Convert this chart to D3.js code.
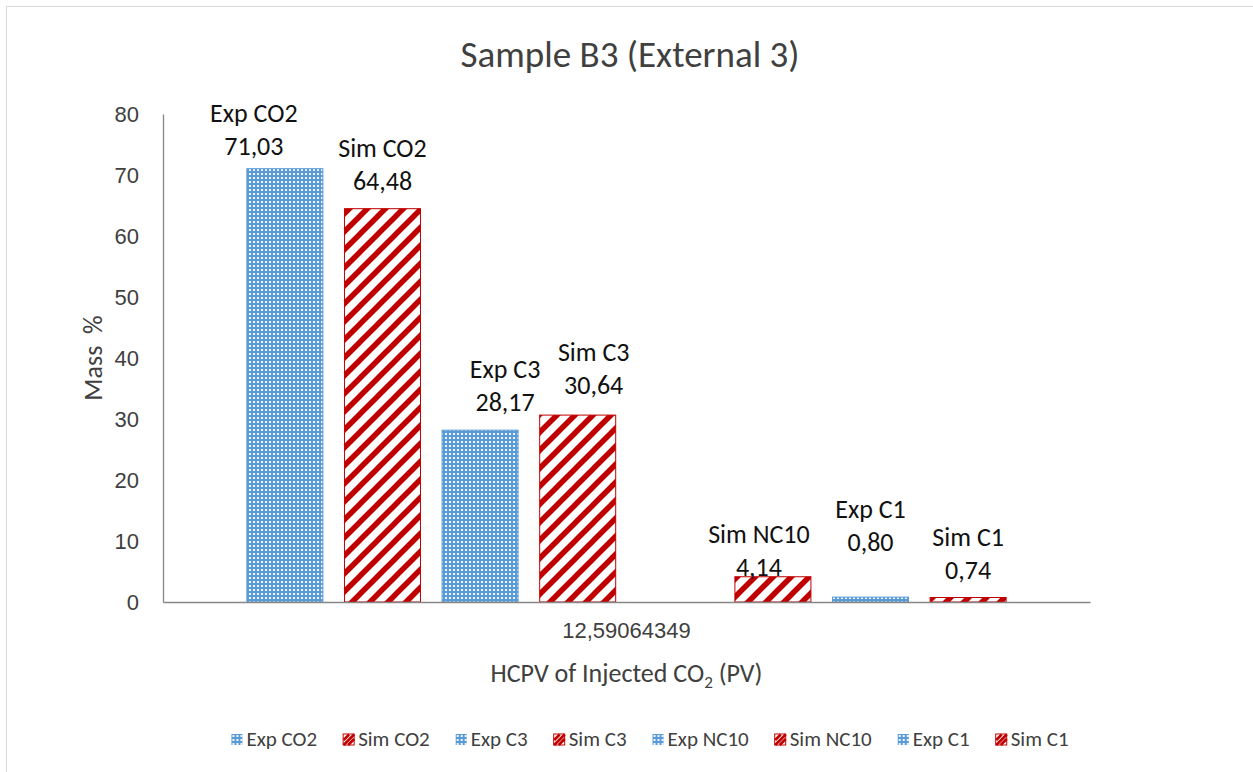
<!DOCTYPE html>
<html>
<head>
<meta charset="utf-8">
<script src="https://cdn.jsdelivr.net/npm/d3@7"></script>
<style>
  html, body { margin: 0; padding: 0; background: #fff; }
  svg { display: block; font-family: Carlito, Lato, "Open Sans", sans-serif; }
</style>
</head>
<body>
<svg id="chart" width="1253" height="772"></svg>
<script>
// ---- data ----
const category = "12,59064349";
const seriesNames = ["Exp CO2", "Sim CO2", "Exp C3", "Sim C3", "Exp NC10", "Sim NC10", "Exp C1", "Sim C1"];
const seriesValues = [71.03, 64.48, 28.17, 30.64, 0, 4.14, 0.80, 0.74];
const seriesKind = ["exp", "sim", "exp", "sim", "exp", "sim", "exp", "sim"];
const yTicks = [0, 10, 20, 30, 40, 50, 60, 70, 80];

// hand-placed data label nudges (dx, dy) in px
const labelNudge = [[-31, 5], [0, 0], [25, 0], [16, -2], [0, 0], [-14, 18], [0, -27], [0, 1]];

const svg = d3.select("#chart");
const W = 1253, H = 772;
const plot = { left: 163, right: 1090, top: 114, bottom: 602 };

const blue = "#5B9BD5", red = "#C00000";

// ---- patterns ----
const defs = svg.append("defs");
const dots = defs.append("pattern").attr("id", "pat-exp")
  .attr("patternUnits", "userSpaceOnUse").attr("width", 4).attr("height", 4);
dots.append("rect").attr("width", 4).attr("height", 4).attr("fill", blue);
dots.append("rect").attr("x", 1).attr("y", 1).attr("width", 2).attr("height", 2).attr("fill", "#ffffff").attr("opacity", 0.9);

const P = 18;
const stripes = defs.append("pattern").attr("id", "pat-sim")
  .attr("patternUnits", "userSpaceOnUse").attr("width", P).attr("height", P);
stripes.append("rect").attr("width", P).attr("height", P).attr("fill", "#ffffff");
stripes.append("path")
  .attr("d", `M${-P/2},${P/2} L${P/2},${-P/2} M0,${P} L${P},0 M${P/2},${P*1.5} L${P*1.5},${P/2}`)
  .attr("stroke", red).attr("stroke-width", 5.5);

// ---- outer frame ----
svg.append("rect").attr("x", 6.5).attr("y", 6.5).attr("width", W + 10).attr("height", H + 10)
  .attr("fill", "none").attr("stroke", "#d9d9d9").attr("stroke-width", 1);

// ---- scales ----
const y = d3.scaleLinear().domain([0, 80]).range([plot.bottom, plot.top]);
const x = d3.scaleBand().domain(seriesNames).range([plot.left, plot.right])
  .paddingInner(0.211).paddingOuter(0.854);

// ---- title ----
svg.append("text").attr("x", 630).attr("y", 67).attr("text-anchor", "middle")
  .attr("font-size", 37).attr("fill", "#404040").text("Sample B3 (External 3)");

// ---- y axis ----
const yAxis = d3.axisLeft(y).tickValues(yTicks).tickSize(0).tickPadding(24).tickFormat(d3.format("d"));
const gy = svg.append("g").attr("transform", `translate(${plot.left},0)`).call(yAxis);
gy.select(".domain").attr("stroke", "#868686").attr("stroke-width", 1.3);
gy.selectAll("text").attr("font-size", 22).attr("fill", "#404040").attr("font-family", null);

// ---- bars ----
const data = seriesNames.map((n, i) => ({ name: n, value: seriesValues[i], kind: seriesKind[i], nudge: labelNudge[i] }));

svg.append("g").selectAll("rect").data(data.filter(d => d.value > 0)).join("rect")
  .attr("x", d => x(d.name) + 0.5)
  .attr("y", d => y(d.value))
  .attr("width", x.bandwidth() - 1)
  .attr("height", d => y(0) - y(d.value))
  .attr("fill", d => d.kind === "exp" ? "url(#pat-exp)" : "url(#pat-sim)")
  .attr("stroke", d => d.kind === "exp" ? blue : red)
  .attr("stroke-width", 1);

// ---- x axis ----
const x0 = d3.scaleBand().domain([category]).range([plot.left, plot.right]);
const xAxis = d3.axisBottom(x0).tickSize(0).tickPadding(20);
const gx = svg.append("g").attr("transform", `translate(0,${plot.bottom})`).call(xAxis);
gx.select(".domain").attr("stroke", "#868686").attr("stroke-width", 1.5);
gx.selectAll("text").attr("font-size", 22).attr("fill", "#404040").attr("font-family", null);

// ---- data labels ----
const lbl = svg.append("g").selectAll("g").data(data.filter(d => d.value > 0)).join("g")
  .attr("transform", d => `translate(${x(d.name) + x.bandwidth() / 2 + d.nudge[0]},${y(d.value) - 19 + d.nudge[1]})`);
lbl.append("text").attr("text-anchor", "middle").attr("y", -33)
  .attr("font-size", 26).attr("fill", "#111").text(d => d.name);
lbl.append("text").attr("text-anchor", "middle").attr("y", 0)
  .attr("font-size", 26).attr("fill", "#111").text(d => d3.format(".2f")(d.value).replace(".", ","));

// ---- axis titles ----
svg.append("text").attr("transform", `translate(102,${(plot.top + plot.bottom) / 2}) rotate(-90)`)
  .attr("text-anchor", "middle").attr("font-size", 26).attr("fill", "#404040")
  .style("white-space", "pre").text("Mass  %");

const xt = svg.append("text").attr("x", (plot.left + plot.right) / 2).attr("y", 682)
  .attr("text-anchor", "middle").attr("font-size", 26).attr("fill", "#404040");
xt.append("tspan").text("HCPV of Injected CO");
xt.append("tspan").attr("font-size", 17).attr("dy", 6).text("2");
xt.append("tspan").attr("dy", -6).text(" (PV)");

// ---- legend ----
const legend = svg.append("g");
const items = legend.selectAll("g").data(data).join("g");
items.append("rect").attr("width", 11).attr("height", 11)
  .attr("fill", d => d.kind === "exp" ? "url(#pat-exp)" : "#ffffff")
  .attr("stroke", d => d.kind === "exp" ? "none" : red).attr("stroke-width", 1);
items.filter(d => d.kind === "sim").append("path")
  .attr("d", "M0.5,11 L11,0.5 M0.5,6 L6,0.5 M5,11 L11,5")
  .attr("stroke", red).attr("stroke-width", 2.6).attr("fill", "none");
items.append("text").attr("x", 15).attr("y", 12).attr("font-size", 21).attr("fill", "#404040")
  .text(d => d.name);

const legendGap = 26;
let cx = 0;
const offsets = [];
items.each(function () {
  const w = 15 + this.querySelector("text").getComputedTextLength();
  offsets.push(cx);
  cx += w + legendGap;
});
const total = cx - legendGap;
const startX = 650 - total / 2;
items.attr("transform", (d, i) => `translate(${startX + offsets[i]},${734})`);
</script>
</body>
</html>
